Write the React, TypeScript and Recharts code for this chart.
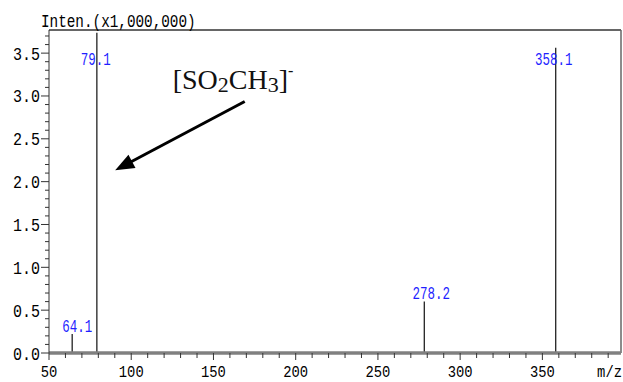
import React from "react";
import {
  ComposedChart,
  XAxis,
  YAxis,
  Scatter,
  ReferenceLine,
  ReferenceDot,
} from "recharts";

// Peak list (m/z and intensity in units of 1,000,000 counts)
const peakMz = [64.1, 79.1, 278.2, 358.1];
const peakIntensity = [0.222, 3.737, 0.602, 3.562];
const peakLabels = ["64.1", "79.1", "278.2", "358.1"];

// Horizontal nudge (px) of each peak label relative to its stick
const labelNudge = [5, -1, 7, -2];

// Axis ranges and tick labels
const X_MIN = 50;
const X_MAX = 397.8;
const Y_MIN = 0;
const Y_MAX = 3.77;
const xMajorTicks = [50, 100, 150, 200, 250, 300, 350];
const xTickLabels = ["50", "100", "150", "200", "250", "300", "350"];
const yMajorTicks = [0, 0.5, 1.0, 1.5, 2.0, 2.5, 3.0, 3.5];
const yTickLabels = ["0.0", "0.5", "1.0", "1.5", "2.0", "2.5", "3.0", "3.5"];
const X_MINOR_STEP = 10;
const Y_MINOR_STEP = 0.1;

// Peak labels never rise above this level
const LABEL_CEILING = 3.34;

// Annotation (formula text and arrow) in data coordinates
const annotationAnchor = { mz: 125.2, value: 3.078 };
const arrowTail = { mz: 169.0, value: 2.935 };
const arrowTip = { mz: 90.25, value: 2.133 };

const xAllTicks: number[] = [];
for (let i = 0; X_MIN + i * X_MINOR_STEP <= 390 + 1e-9; i++) {
  xAllTicks.push(Math.round((X_MIN + i * X_MINOR_STEP) * 10) / 10);
}
const yAllTicks: number[] = [];
for (let i = 0; i * Y_MINOR_STEP <= 3.7 + 1e-9; i++) {
  yAllTicks.push(Math.round(i * Y_MINOR_STEP * 10) / 10);
}

const peaks = peakMz.map((mz, i) => ({
  mz,
  intensity: peakIntensity[i],
  labelLevel: Math.min(peakIntensity[i], LABEL_CEILING),
  label: peakLabels[i],
  nudge: labelNudge[i],
}));

const MONO = "'Liberation Mono', 'DejaVu Sans Mono', monospace";

// Condensed, tall monospace text; (x, y) is the baseline point.
function MonoText({
  x,
  y,
  text,
  cw,
  h,
  anchor = "start",
  fill = "#000",
}: {
  x: number;
  y: number;
  text: string;
  cw: number;
  h: number;
  anchor?: "start" | "middle" | "end";
  fill?: string;
}) {
  const fs = cw / 0.6;
  const sy = h / (0.7 * fs);
  return (
    <g transform={`translate(${x},${y}) scale(1,${sy})`}>
      <text x={0} y={0} fontFamily={MONO} fontSize={fs} textAnchor={anchor} fill={fill}>
        {text}
      </text>
    </g>
  );
}

const isMultiple = (v: number, step: number) =>
  Math.abs(v / step - Math.round(v / step)) < 1e-6;

function YTick(props: any) {
  const { x, y, payload } = props;
  const v = payload.value as number;
  const major = isMultiple(v, 0.5);
  const idx = yMajorTicks.findIndex((t) => Math.abs(t - v) < 1e-6);
  return (
    <g>
      <line x1={x} x2={x - (major ? 8 : 4)} y1={y} y2={y} stroke="#333" strokeWidth={1} />
      {major && idx >= 0 && (
        <MonoText x={x - 9} y={y + 6.5} text={yTickLabels[idx]} cw={9} h={13} anchor="end" />
      )}
    </g>
  );
}

function XTick(props: any) {
  const { x, y, payload } = props;
  const v = payload.value as number;
  const major = isMultiple(v, 50);
  const idx = xMajorTicks.findIndex((t) => Math.abs(t - v) < 1e-6);
  return (
    <g>
      <line x1={x} x2={x} y1={y} y2={y + (major ? 7 : 5)} stroke="#333" strokeWidth={1} />
      {major && idx >= 0 && (
        <MonoText x={x} y={y + 24} text={xTickLabels[idx]} cw={8.3} h={11.5} anchor="middle" />
      )}
    </g>
  );
}

function PeakLabel(props: any) {
  const { cx, cy, payload } = props;
  if (cx == null || cy == null) return <g />;
  return (
    <MonoText
      x={cx + payload.nudge}
      y={cy - 2}
      text={payload.label}
      cw={7.5}
      h={13}
      anchor="middle"
      fill="#1f1fff"
    />
  );
}

function Arrow(props: any) {
  const { x1, y1, x2, y2 } = props;
  const dx = x2 - x1;
  const dy = y2 - y1;
  const len = Math.sqrt(dx * dx + dy * dy);
  const ux = dx / len;
  const uy = dy / len;
  const headLen = 19;
  const headHalf = 7.5;
  const bx = x2 - ux * headLen;
  const by = y2 - uy * headLen;
  const px = -uy;
  const py = ux;
  return (
    <g>
      <line x1={x1} y1={y1} x2={bx + ux * 2} y2={by + uy * 2} stroke="#000" strokeWidth={3} />
      <polygon
        points={`${x2},${y2} ${bx + px * headHalf},${by + py * headHalf} ${bx - px * headHalf},${by - py * headHalf}`}
        fill="#000"
      />
    </g>
  );
}

function Formula(props: any) {
  const { cx, cy } = props;
  if (cx == null || cy == null) return <g />;
  return (
    <text x={cx} y={cy} fontFamily="'Liberation Serif', 'Times New Roman', serif" fontSize={28} fill="#111">
      [SO
      <tspan fontSize={22} dy={3}>2</tspan>
      <tspan dy={-3}>CH</tspan>
      <tspan fontSize={22} dy={3}>3</tspan>
      <tspan dy={-3}>]</tspan>
      <tspan fontSize={16} dy={-13}>-</tspan>
    </text>
  );
}

function AxisTitle(props: any) {
  const { viewBox } = props;
  const top = viewBox ? viewBox.y : 30;
  return <MonoText x={41} y={top - 3.5} text="Inten.(x1,000,000)" cw={8.6} h={12.7} />;
}

function XUnit(props: any) {
  const { viewBox } = props;
  const bottom = viewBox ? viewBox.y : 353;
  return <MonoText x={622} y={bottom + 24} text="m/z" cw={8.3} h={11.5} anchor="end" />;
}

export default function App() {
  return (
    <div style={{ position: "absolute", left: 0, top: 0, background: "#fff" }}>
      <ComposedChart
        width={623}
        height={382}
        data={peaks}
        margin={{ top: 30, right: 2, bottom: 0, left: 0 }}
      >
        <XAxis
          type="number"
          dataKey="mz"
          domain={[X_MIN, X_MAX]}
          ticks={xAllTicks}
          interval={0}
          allowDataOverflow
          height={29}
          tickLine={false}
          tickSize={0}
          tickMargin={0}
          tick={<XTick />}
          axisLine={{ stroke: "#808080", strokeWidth: 3.5 }}
          label={<XUnit />}
        />
        <YAxis
          type="number"
          dataKey="labelLevel"
          domain={[Y_MIN, Y_MAX]}
          ticks={yAllTicks}
          interval={0}
          allowDataOverflow
          width={49}
          tickLine={false}
          tickSize={0}
          tickMargin={0}
          tick={<YTick />}
          axisLine={{ stroke: "#333", strokeWidth: 1 }}
          label={<AxisTitle />}
        />
        {/* plot frame: top and right edges */}
        <ReferenceLine y={Y_MAX} stroke="#333" strokeWidth={1.5} ifOverflow="visible" />
        <ReferenceLine x={X_MAX} stroke="#666" strokeWidth={1.5} ifOverflow="visible" />
        {/* spectrum sticks */}
        {peaks.map((p) => (
          <ReferenceLine
            key={p.label}
            segment={[
              { x: p.mz, y: 0 },
              { x: p.mz, y: p.intensity },
            ]}
            stroke="#222"
            strokeWidth={1.3}
            ifOverflow="visible"
          />
        ))}
        <Scatter dataKey="labelLevel" isAnimationActive={false} shape={<PeakLabel />} />
        <ReferenceLine
          segment={[
            { x: arrowTail.mz, y: arrowTail.value },
            { x: arrowTip.mz, y: arrowTip.value },
          ]}
          ifOverflow="visible"
          shape={<Arrow />}
        />
        <ReferenceDot
          x={annotationAnchor.mz}
          y={annotationAnchor.value}
          r={0}
          ifOverflow="visible"
          shape={<Formula />}
        />
      </ComposedChart>
    </div>
  );
}
